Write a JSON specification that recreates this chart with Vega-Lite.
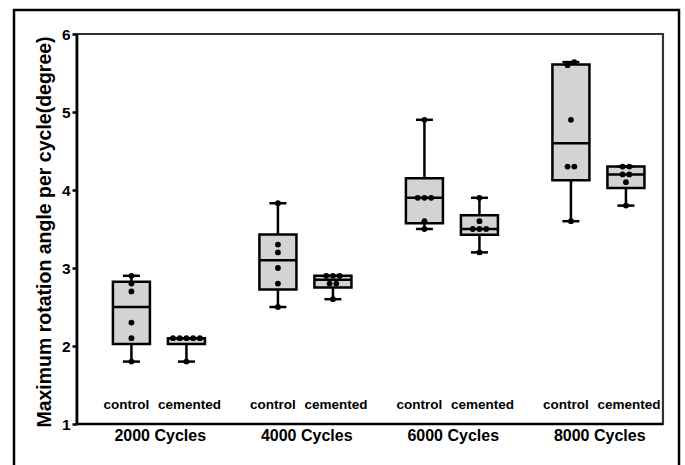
{
  "$schema": "https://vega.github.io/schema/vega-lite/v6.json",
  "width": 665,
  "height": 465,
  "autosize": {"type": "none"},
  "padding": {"left": 14, "top": 10, "right": 6, "bottom": -10},
  "background": "white",
  "config": {
    "view": {"stroke": "black", "strokeWidth": 2.5},
    "font": "Liberation Sans"
  },
  "datasets": {
    "boxes": [
      {"cycle": "2000 Cycles", "group": "control", "min": 1.8, "q1": 2.025, "median": 2.5, "q3": 2.825, "max": 2.9},
      {"cycle": "2000 Cycles", "group": "cemented", "min": 1.8, "q1": 2.025, "median": 2.1, "q3": 2.1, "max": 2.1},
      {"cycle": "4000 Cycles", "group": "control", "min": 2.5, "q1": 2.725, "median": 3.1, "q3": 3.43, "max": 3.83},
      {"cycle": "4000 Cycles", "group": "cemented", "min": 2.6, "q1": 2.75, "median": 2.85, "q3": 2.9, "max": 2.9},
      {"cycle": "6000 Cycles", "group": "control", "min": 3.5, "q1": 3.575, "median": 3.9, "q3": 4.15, "max": 4.9},
      {"cycle": "6000 Cycles", "group": "cemented", "min": 3.2, "q1": 3.425, "median": 3.5, "q3": 3.675, "max": 3.9},
      {"cycle": "8000 Cycles", "group": "control", "min": 3.6, "q1": 4.125, "median": 4.6, "q3": 5.61, "max": 5.64},
      {"cycle": "8000 Cycles", "group": "cemented", "min": 3.8, "q1": 4.025, "median": 4.2, "q3": 4.3, "max": 4.3}
    ],
    "points": [
      {"cycle": "2000 Cycles", "group": "control", "value": 1.8},
      {"cycle": "2000 Cycles", "group": "control", "value": 2.1},
      {"cycle": "2000 Cycles", "group": "control", "value": 2.3},
      {"cycle": "2000 Cycles", "group": "control", "value": 2.7},
      {"cycle": "2000 Cycles", "group": "control", "value": 2.8},
      {"cycle": "2000 Cycles", "group": "control", "value": 2.9},
      {"cycle": "2000 Cycles", "group": "cemented", "value": 1.8},
      {"cycle": "2000 Cycles", "group": "cemented", "value": 2.1},
      {"cycle": "2000 Cycles", "group": "cemented", "value": 2.1},
      {"cycle": "2000 Cycles", "group": "cemented", "value": 2.1},
      {"cycle": "2000 Cycles", "group": "cemented", "value": 2.1},
      {"cycle": "2000 Cycles", "group": "cemented", "value": 2.1},
      {"cycle": "4000 Cycles", "group": "control", "value": 2.5},
      {"cycle": "4000 Cycles", "group": "control", "value": 2.8},
      {"cycle": "4000 Cycles", "group": "control", "value": 3.0},
      {"cycle": "4000 Cycles", "group": "control", "value": 3.2},
      {"cycle": "4000 Cycles", "group": "control", "value": 3.3},
      {"cycle": "4000 Cycles", "group": "control", "value": 3.83},
      {"cycle": "4000 Cycles", "group": "cemented", "value": 2.6},
      {"cycle": "4000 Cycles", "group": "cemented", "value": 2.8},
      {"cycle": "4000 Cycles", "group": "cemented", "value": 2.8},
      {"cycle": "4000 Cycles", "group": "cemented", "value": 2.9},
      {"cycle": "4000 Cycles", "group": "cemented", "value": 2.9},
      {"cycle": "4000 Cycles", "group": "cemented", "value": 2.9},
      {"cycle": "6000 Cycles", "group": "control", "value": 3.5},
      {"cycle": "6000 Cycles", "group": "control", "value": 3.6},
      {"cycle": "6000 Cycles", "group": "control", "value": 3.9},
      {"cycle": "6000 Cycles", "group": "control", "value": 3.9},
      {"cycle": "6000 Cycles", "group": "control", "value": 3.9},
      {"cycle": "6000 Cycles", "group": "control", "value": 4.9},
      {"cycle": "6000 Cycles", "group": "cemented", "value": 3.2},
      {"cycle": "6000 Cycles", "group": "cemented", "value": 3.5},
      {"cycle": "6000 Cycles", "group": "cemented", "value": 3.5},
      {"cycle": "6000 Cycles", "group": "cemented", "value": 3.5},
      {"cycle": "6000 Cycles", "group": "cemented", "value": 3.6},
      {"cycle": "6000 Cycles", "group": "cemented", "value": 3.9},
      {"cycle": "8000 Cycles", "group": "control", "value": 3.6},
      {"cycle": "8000 Cycles", "group": "control", "value": 4.3},
      {"cycle": "8000 Cycles", "group": "control", "value": 4.3},
      {"cycle": "8000 Cycles", "group": "control", "value": 4.9},
      {"cycle": "8000 Cycles", "group": "control", "value": 5.6},
      {"cycle": "8000 Cycles", "group": "control", "value": 5.64},
      {"cycle": "8000 Cycles", "group": "cemented", "value": 3.8},
      {"cycle": "8000 Cycles", "group": "cemented", "value": 4.1},
      {"cycle": "8000 Cycles", "group": "cemented", "value": 4.2},
      {"cycle": "8000 Cycles", "group": "cemented", "value": 4.2},
      {"cycle": "8000 Cycles", "group": "cemented", "value": 4.3},
      {"cycle": "8000 Cycles", "group": "cemented", "value": 4.3}
    ]
  },
  "layer": [
    {
      "data": {"name": "boxes"},
      "mark": {"type": "rule", "color": "black", "strokeWidth": 2.5},
      "encoding": {
        "x": {
          "field": "cycle", "type": "nominal",
          "sort": ["2000 Cycles", "4000 Cycles", "6000 Cycles", "8000 Cycles"],
          "scale": {"type": "band", "paddingInner": 0, "paddingOuter": 0.2696, "align": 0.797},
          "axis": {"orient": "bottom", "offset": -51, "domain": false, "ticks": false, "grid": false, "labelFontSize": 16, "labelFontWeight": "bold", "labelColor": "black", "labelPadding": 3, "labelOffset": 10, "labelAngle": 0, "title": null}
        },
        "xOffset": {"field": "group", "type": "nominal", "scale": {"type": "band", "domain": ["control", "cemented"], "paddingInner": 0.327, "paddingOuter": 0.495, "align": 0.66}},
        "y": {
          "field": "min", "type": "quantitative",
          "scale": {"domain": [0.3462, 6.3077], "nice": false, "zero": false},
          "axis": {"values": [1, 2, 3, 4, 5, 6], "format": "d", "offset": -63, "domain": false, "grid": false, "tickSize": 5, "tickWidth": 2.5, "tickColor": "black", "labelFontSize": 15.5, "labelFontWeight": "bold", "labelColor": "black", "labelPadding": 2, "title": "Maximum rotation angle per cycle(degree)", "titleFontSize": 19.5, "titleFontWeight": "bold", "titleColor": "black", "titleX": -27, "titleY": 221.5, "titleAngle": 270, "titleBaseline": "alphabetic", "titleAlign": "center"}
        },
        "y2": {"field": "max"}
      }
    },
    {
      "data": {"name": "boxes"},
      "mark": {"type": "rect", "fill": "#d3d3d3", "stroke": "black", "strokeWidth": 2.5},
      "encoding": {
        "x": {"field": "cycle", "type": "nominal", "sort": ["2000 Cycles", "4000 Cycles", "6000 Cycles", "8000 Cycles"]},
        "xOffset": {"field": "group", "type": "nominal", "scale": {"type": "band", "domain": ["control", "cemented"], "paddingInner": 0.327, "paddingOuter": 0.495, "align": 0.66}},
        "y": {"field": "q1", "type": "quantitative"},
        "y2": {"field": "q3"}
      }
    },
    {
      "data": {"name": "boxes"},
      "mark": {"type": "tick", "color": "black", "opacity": 1, "size": 37, "thickness": 2.5},
      "encoding": {
        "x": {"field": "cycle", "type": "nominal", "sort": ["2000 Cycles", "4000 Cycles", "6000 Cycles", "8000 Cycles"]},
        "xOffset": {"field": "group", "type": "nominal", "scale": {"type": "band", "domain": ["control", "cemented"], "paddingInner": 0.327, "paddingOuter": 0.495, "align": 0.66}},
        "y": {"field": "median", "type": "quantitative"}
      }
    },
    {
      "data": {"name": "boxes"},
      "mark": {"type": "tick", "color": "black", "opacity": 1, "size": 17, "thickness": 2.5},
      "encoding": {
        "x": {"field": "cycle", "type": "nominal", "sort": ["2000 Cycles", "4000 Cycles", "6000 Cycles", "8000 Cycles"]},
        "xOffset": {"field": "group", "type": "nominal", "scale": {"type": "band", "domain": ["control", "cemented"], "paddingInner": 0.327, "paddingOuter": 0.495, "align": 0.66}},
        "y": {"field": "min", "type": "quantitative"}
      }
    },
    {
      "data": {"name": "boxes"},
      "mark": {"type": "tick", "color": "black", "opacity": 1, "size": 17, "thickness": 2.5},
      "encoding": {
        "x": {"field": "cycle", "type": "nominal", "sort": ["2000 Cycles", "4000 Cycles", "6000 Cycles", "8000 Cycles"]},
        "xOffset": {"field": "group", "type": "nominal", "scale": {"type": "band", "domain": ["control", "cemented"], "paddingInner": 0.327, "paddingOuter": 0.495, "align": 0.66}},
        "y": {"field": "max", "type": "quantitative"}
      }
    },
    {
      "data": {"name": "points"},
      "transform": [
        {"calculate": "datum.group === 'control' ? 0 : 1", "as": "gi"},
        {"calculate": "round(datum.value * 10)", "as": "bin"},
        {"window": [{"op": "row_number", "as": "rk"}], "groupby": ["cycle", "group", "bin"]},
        {"joinaggregate": [{"op": "count", "as": "n"}], "groupby": ["cycle", "group", "bin"]},
        {"calculate": "datum.gi + (datum.rk - (datum.n + 1) / 2) * 0.122", "as": "off"}
      ],
      "mark": {"type": "circle", "size": 34, "color": "black", "opacity": 1},
      "encoding": {
        "x": {"field": "cycle", "type": "nominal", "sort": ["2000 Cycles", "4000 Cycles", "6000 Cycles", "8000 Cycles"]},
        "xOffset": {"field": "off", "type": "quantitative", "scale": {"domain": [-0.9902, 1.6727], "nice": false, "zero": false}},
        "y": {"field": "value", "type": "quantitative"}
      }
    },
    {
      "data": {"name": "boxes"},
      "transform": [{"filter": "datum.group === 'control'"}],
      "mark": {"type": "text", "fontSize": 13.5, "fontWeight": "bold", "color": "black", "baseline": "alphabetic", "align": "center", "dx": -5},
      "encoding": {
        "x": {"field": "cycle", "type": "nominal", "sort": ["2000 Cycles", "4000 Cycles", "6000 Cycles", "8000 Cycles"]},
        "xOffset": {"field": "group", "type": "nominal", "scale": {"type": "band", "domain": ["control", "cemented"], "paddingInner": 0.327, "paddingOuter": 0.495, "align": 0.66}},
        "y": {"datum": 1.19, "type": "quantitative"},
        "text": {"field": "group"}
      }
    },
    {
      "data": {"name": "boxes"},
      "transform": [{"filter": "datum.group === 'cemented'"}],
      "mark": {"type": "text", "fontSize": 13.5, "fontWeight": "bold", "color": "black", "baseline": "alphabetic", "align": "center", "dx": 3},
      "encoding": {
        "x": {"field": "cycle", "type": "nominal", "sort": ["2000 Cycles", "4000 Cycles", "6000 Cycles", "8000 Cycles"]},
        "xOffset": {"field": "group", "type": "nominal", "scale": {"type": "band", "domain": ["control", "cemented"], "paddingInner": 0.327, "paddingOuter": 0.495, "align": 0.66}},
        "y": {"datum": 1.19, "type": "quantitative"},
        "text": {"field": "group"}
      }
    },
    {
      "data": {"values": [{}]},
      "mark": {"type": "rect", "fill": null, "fillOpacity": 0, "stroke": "#333333", "strokeWidth": 2.2},
      "encoding": {
        "x": {"datum": "2000 Cycles", "type": "nominal", "bandPosition": 0},
        "x2": {"datum": "8000 Cycles", "bandPosition": 1},
        "y": {"datum": 1, "type": "quantitative"},
        "y2": {"datum": 6}
      }
    },
    {
      "data": {"values": [{}]},
      "mark": {"type": "rule", "color": "black", "strokeWidth": 2.7},
      "encoding": {
        "x": {"datum": "2000 Cycles", "type": "nominal", "bandPosition": 0},
        "x2": {"datum": "8000 Cycles", "bandPosition": 1},
        "y": {"datum": 1, "type": "quantitative"}
      }
    },
    {
      "data": {"values": [{}]},
      "mark": {"type": "rule", "color": "black", "strokeWidth": 2.7},
      "encoding": {
        "x": {"datum": "2000 Cycles", "type": "nominal", "bandPosition": 0},
        "y": {"datum": 1, "type": "quantitative"},
        "y2": {"datum": 6}
      }
    }
  ],
  "resolve": {"scale": {"xOffset": "independent"}}
}
